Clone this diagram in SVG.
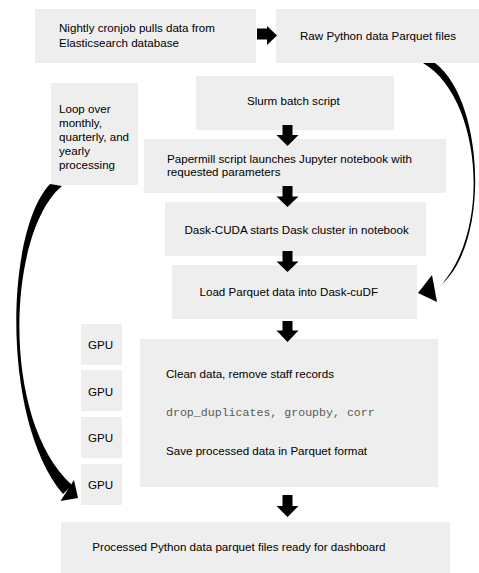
<svg xmlns="http://www.w3.org/2000/svg" width="479" height="573" viewBox="0 0 479 573">
<style>
.box{fill:#eeeeee;}
.t{font-family:"Liberation Sans",Arial,sans-serif;font-size:11.6px;fill:#000;}
.m{font-family:"Liberation Mono","Courier New",monospace;font-size:11.6px;fill:#595959;}
.ar{fill:#000;}
</style>
<rect width="479" height="573" fill="#fff"/>
<g id="n-cron"><rect class="box" x="35" y="9" width="221" height="54"/>
<text class="t" x="59" y="32">Nightly cronjob pulls data from</text>
<text class="t" x="59" y="46.5">Elasticsearch database</text></g>
<g id="n-raw"><rect class="box" x="276" y="9" width="203" height="54"/>
<text class="t" x="300" y="40">Raw Python data Parquet files</text></g>
<g id="n-loop"><rect class="box" x="51" y="83" width="87" height="102"/>
<text class="t" x="59" y="113">Loop over</text>
<text class="t" x="59" y="127">monthly,</text>
<text class="t" x="59" y="141">quarterly, and</text>
<text class="t" x="59" y="155">yearly</text>
<text class="t" x="59" y="169">processing</text></g>
<g id="n-slurm"><rect class="box" x="196" y="76" width="198" height="54"/>
<text class="t" x="247" y="105">Slurm batch script</text></g>
<g id="n-papermill"><rect class="box" x="144" y="139" width="302" height="54"/>
<text class="t" x="167" y="162.5">Papermill script launches Jupyter notebook with</text>
<text class="t" x="167" y="176">requested parameters</text></g>
<g id="n-daskcuda"><rect class="box" x="165" y="202" width="261" height="54"/>
<text class="t" x="184.5" y="234">Dask-CUDA starts Dask cluster in notebook</text></g>
<g id="n-load"><rect class="box" x="172" y="265" width="245" height="54"/>
<text class="t" x="199.5" y="296">Load Parquet data into Dask-cuDF</text></g>
<g id="n-clean"><rect class="box" x="140" y="339" width="298" height="148"/>
<text class="t" x="166" y="378">Clean data, remove staff records</text>
<text class="m" x="166" y="416">drop_duplicates, groupby, corr</text>
<text class="t" x="166" y="455">Save processed data in Parquet format</text></g>
<g id="n-gpu1"><rect class="box" x="81" y="324" width="41" height="41"/><text class="t" x="88" y="349">GPU</text></g>
<g id="n-gpu2"><rect class="box" x="81" y="370" width="41" height="41"/><text class="t" x="88" y="395.5">GPU</text></g>
<g id="n-gpu3"><rect class="box" x="81" y="417" width="41" height="41"/><text class="t" x="88" y="442">GPU</text></g>
<g id="n-gpu4"><rect class="box" x="81" y="464" width="41" height="41"/><text class="t" x="88" y="489">GPU</text></g>
<g id="n-final"><rect class="box" x="61" y="522" width="389" height="51"/>
<text class="t" x="92.3" y="551">Processed Python data parquet files ready for dashboard</text></g>
<g id="connectors">
<polygon class="ar" points="257,28.5 267,28.5 267,26 277,35.5 267,45 267,39.5 257,39.5"/>
<polygon class="ar" points="282.5,125 292.5,125 292.5,135 298.5,135 287.5,146 276.5,135 282.5,135"/>
<polygon class="ar" points="282.5,186 292.5,186 292.5,196.5 298.5,196.5 287.5,207 276.5,196.5 282.5,196.5"/>
<polygon class="ar" points="282.5,251 292.5,251 292.5,261.5 298.5,261.5 287.5,272 276.5,261.5 282.5,261.5"/>
<polygon class="ar" points="282.5,321 292.5,321 292.5,330.5 298.5,330.5 287.5,342 276.5,330.5 282.5,330.5"/>
<polygon class="ar" points="282.5,495 292.5,495 292.5,506 298.5,506 287.5,517 276.5,506 282.5,506"/>
<path class="ar" d="M423,63 L435,63 C484,100 490,240 443,283 L435,291 C493,238 483,98 423,63 Z"/>
<polygon class="ar" points="432,275 418,293 437,302"/>
<path class="ar" d="M50,184 L62,186 C7,232 0,420 72,485 L63,494 C1,420 5,232 50,184 Z"/>
<polygon class="ar" points="74,480 78,498 60.5,501"/>
</g>
</svg>
